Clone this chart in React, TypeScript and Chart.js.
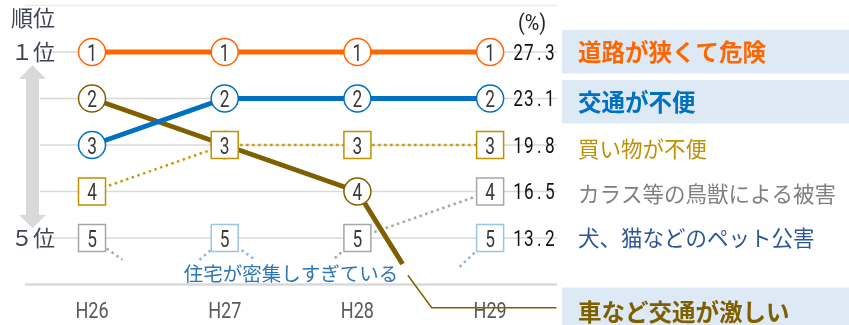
import React, { useEffect, useRef } from "react";
import { Chart, registerables } from "chart.js";

Chart.register(...registerables);

// ---- data ----
const years = ["H26", "H27", "H28", "H29"];
const rankRoad = [1, 1, 1, 1];
const rankTransit = [3, 2, 2, 2];
const rankTraffic = [2, 3, 4, null];
const rankShopping = [4, 3, 3, 3];
const rankCrow = [5, null, 5, 4];
const rankHousing = [null, 5, null, null];
const rankPets = [null, null, null, 5];
// stubs of series leaving / entering the top five (x = year index, y = rank)
const trafficExit = { x: 2.34, y: 5.56 };
const crowExit = { x: 0.23, y: 5.47 };
const crowEnter = { x: 1.83, y: 5.43 };
const housingEnter = { x: 0.81, y: 5.47 };
const housingExit = { x: 1.23, y: 5.47 };
const petsEnter = { x: 2.77, y: 5.62 };
const trafficLeader = [
  { x: 2.38, y: 5.8 },
  { x: 2.56, y: 6.5 },
  { x: 3.5, y: 6.5 },
];
const pctH29 = [27.3, 23.1, 19.8, 16.5, 13.2];
const rightLabels = [
  "道路が狭くて危険",
  "交通が不便",
  "買い物が不便",
  "カラス等の鳥獣による被害",
  "犬、猫などのペット公害",
];
const dropLabel = "車など交通が激しい";
const housingLabel = "住宅が密集しすぎている";
const axisTitle = "順位";
const topRankLabel = "１位";
const bottomRankLabel = "５位";
const unitLabel = "(%)";

const pts = (ranks: (number | null)[]) => ranks.map((r, i) => ({ x: i, y: r }));

const ORANGE = "#FF6600";
const BLUE = "#0070C0";
const BROWN = "#7F6000";
const GOLD = "#C39A12";
const GRAY = "#A6A6A6";
const LBLUE = "#8DB4E2";
const BG = "#DDE9F5";
const CJK = "'Noto Sans CJK JP', sans-serif";

const markerDefs = [
  { shape: "circle", color: ORANGE },
  { shape: "circle", color: BLUE },
  { shape: "circle", color: BROWN },
  { shape: "rect", color: "#BF9000" },
  { shape: "rect", color: GRAY },
  { shape: "rect", color: "#9DC3E6" },
  { shape: "rect", color: "#9DC3E6" },
  null,
];

function narrow(ctx: CanvasRenderingContext2D, text: string, x: number, y: number, size: number, sx: number, align: CanvasTextAlign, color: string) {
  ctx.save();
  ctx.translate(x, y + size * 0.355);
  ctx.scale(sx, 1);
  ctx.font = `${size}px Roboto, sans-serif`;
  ctx.textAlign = align;
  ctx.textBaseline = "alphabetic";
  ctx.fillStyle = color;
  ctx.fillText(text, 0, 0);
  ctx.restore();
}

const decor = {
  id: "decor",
  beforeDatasetsDraw(chart: any) {
    const ctx: CanvasRenderingContext2D = chart.ctx;
    const xs = chart.scales.x;
    const ys = chart.scales.y;
    const ca = chart.chartArea;
    ctx.save();
    for (let r = 0; r <= 6; r++) {
      const y = ys.getPixelForValue(r);
      ctx.beginPath();
      if (r === 0) {
        ctx.strokeStyle = "#ECECEC";
        ctx.lineWidth = 1.5;
        ctx.moveTo(ca.left - 15, y);
      } else if (r === 6) {
        ctx.strokeStyle = "#D9D9D9";
        ctx.lineWidth = 2.5;
        ctx.moveTo(ca.left - 15, y);
      } else {
        ctx.strokeStyle = "#D9D9D9";
        ctx.lineWidth = 1.5;
        ctx.moveTo(ca.left, y);
      }
      ctx.lineTo(ca.right + 2, y);
      ctx.stroke();
    }
    // double arrow
    const y1 = ys.getPixelForValue(1);
    const y5 = ys.getPixelForValue(5);
    const cx = 32.5;
    ctx.fillStyle = "#D9D9D9";
    ctx.beginPath();
    ctx.moveTo(cx, y1 + 13);
    ctx.lineTo(cx + 13.5, y1 + 27);
    ctx.lineTo(cx + 6.5, y1 + 27);
    ctx.lineTo(cx + 6.5, y5 - 23);
    ctx.lineTo(cx + 13.5, y5 - 23);
    ctx.lineTo(cx, y5 - 10);
    ctx.lineTo(cx - 13.5, y5 - 23);
    ctx.lineTo(cx - 6.5, y5 - 23);
    ctx.lineTo(cx - 6.5, y1 + 27);
    ctx.lineTo(cx - 13.5, y1 + 27);
    ctx.closePath();
    ctx.fill();
    // left labels
    ctx.font = `22px ${CJK}`;
    ctx.fillStyle = "#3E4452";
    ctx.textAlign = "left";
    ctx.textBaseline = "middle";
    ctx.fillText(axisTitle, 11, 18);
    ctx.fillText(topRankLabel, 11, y1);
    ctx.fillText(bottomRankLabel, 11, y5);
    // x labels
    years.forEach((t, i) => {
      narrow(ctx, t, xs.getPixelForValue(i), 310, 22, 0.82, "center", "#595959");
    });
    // right label backgrounds
    const bgRows = [0, 1];
    bgRows.forEach((i) => {
      const yc = ys.getPixelForValue(i + 1) + (i === 0 ? 0 : 3.5);
      ctx.fillStyle = BG;
      ctx.fillRect(562, yc - 22, 849 - 562, 43.5);
    });
    ctx.fillStyle = BG;
    ctx.fillRect(562, ys.getPixelForValue(6) + 3, 849 - 562, 60);
    ctx.restore();
  },
  afterDatasetsDraw(chart: any) {
    const ctx: CanvasRenderingContext2D = chart.ctx;
    const xs = chart.scales.x;
    const ys = chart.scales.y;
    ctx.save();
    chart.data.datasets.forEach((ds: any, di: number) => {
      const def = markerDefs[di];
      if (!def) return;
      const meta = chart.getDatasetMeta(di);
      meta.data.forEach((el: any, pi: number) => {
        const p = ds.data[pi];
        if (p.y == null || !Number.isInteger(p.x) || !Number.isInteger(p.y)) return;
        const x = el.x;
        const y = el.y;
        ctx.beginPath();
        if (def.shape === "circle") ctx.arc(x, y, 13.5, 0, Math.PI * 2);
        else ctx.rect(x - 13.5, y - 13.5, 27, 27);
        ctx.fillStyle = "#FFFFFF";
        ctx.fill();
        ctx.lineWidth = 1.5;
        ctx.strokeStyle = def.color;
        ctx.stroke();
        narrow(ctx, String(p.y), x, y, 24, 0.72, "center", "#3A3A3A");
      });
    });
    // percentages
    const x3 = xs.getPixelForValue(3);
    pctH29.forEach((v, i) => {
      const y = ys.getPixelForValue(i + 1);
      const s = v.toFixed(1);
      let xx = x3 + 28;
      for (const ch of s) {
        narrow(ctx, ch, xx, y, 22, 0.78, "center", "#111111");
        xx += 10.6;
      }
    });
    narrow(ctx, unitLabel, x3 + 42, 22, 22, 0.9, "center", "#222222");
    // right labels
    ctx.textAlign = "left";
    ctx.textBaseline = "middle";
    const styles = [
      { c: ORANGE, b: true, dy: 0 },
      { c: BLUE, b: true, dy: 3.5 },
      { c: "#BF9000", b: false, dy: 4 },
      { c: "#808080", b: false, dy: 2 },
      { c: "#2F5597", b: false, dy: 0 },
    ];
    rightLabels.forEach((t, i) => {
      const st = styles[i];
      ctx.font = st.b ? `bold 23.5px ${CJK}` : `21.5px ${CJK}`;
      ctx.fillStyle = st.c;
      ctx.fillText(t, 578, ys.getPixelForValue(i + 1) + st.dy);
    });
    ctx.font = `bold 23.5px ${CJK}`;
    ctx.fillStyle = BROWN;
    ctx.fillText(dropLabel, 578, ys.getPixelForValue(6.5) + 4);
    // housing annotation
    ctx.font = `19.5px ${CJK}`;
    ctx.fillStyle = "#2E75B6";
    ctx.textAlign = "center";
    ctx.fillText(housingLabel, xs.getPixelForValue(1.5), ys.getPixelForValue(5.75) + 1);
    ctx.restore();
  },
};

const solid = (color: string) => ({
  borderColor: color,
  borderWidth: 5,
  borderCapStyle: "butt" as const,
  pointRadius: 0,
  pointHitRadius: 0,
  clip: false as any,
});
const dotted = (color: string) => ({
  borderColor: color,
  borderWidth: 2.5,
  borderDash: [2.5, 3.5],
  pointRadius: 0,
  pointHitRadius: 0,
  clip: false as any,
});

export default function App() {
  const ref = useRef<HTMLCanvasElement | null>(null);
  useEffect(() => {
    if (!ref.current) return;
    const chart = new Chart(ref.current, {
      type: "line",
      data: {
        datasets: [
          { label: rightLabels[0], data: pts(rankRoad), ...solid(ORANGE) },
          { label: rightLabels[1], data: pts(rankTransit), ...solid(BLUE) },
          { label: dropLabel, data: [...pts(rankTraffic).filter((p) => p.y != null), trafficExit], ...solid(BROWN) },
          { label: rightLabels[2], data: pts(rankShopping), ...dotted(GOLD) },
          {
            label: rightLabels[3],
            data: [
              { x: 0, y: rankCrow[0] },
              crowExit,
              { x: 1, y: rankCrow[1] },
              crowEnter,
              { x: 2, y: rankCrow[2] },
              { x: 3, y: rankCrow[3] },
            ],
            ...dotted(GRAY),
          },
          { label: housingLabel, data: [housingEnter, { x: 1, y: rankHousing[1] }, housingExit], ...dotted(LBLUE) },
          { label: rightLabels[4], data: [petsEnter, { x: 3, y: rankPets[3] }], ...dotted(LBLUE) },
          { label: "leader", data: trafficLeader, borderColor: BROWN, borderWidth: 1.5, pointRadius: 0, pointHitRadius: 0, clip: false as any },
        ] as any,
      },
      options: {
        animation: false,
        responsive: false,
        events: [],
        layout: { padding: { left: 40, right: 294, top: 5.5, bottom: 40.5 } },
        scales: {
          x: { type: "linear", min: -0.392, max: 3.489, display: false },
          y: { type: "linear", min: 0, max: 6, reverse: true, display: false },
        },
        plugins: { legend: { display: false }, tooltip: { enabled: false } },
      },
      plugins: [decor],
    });
    return () => chart.destroy();
  }, []);
  return (
    <div style={{ position: "absolute", left: 0, top: 0, width: 849, height: 325, background: "#fff" }}>
      <canvas ref={ref} width={849} height={325} style={{ display: "block" }} />
    </div>
  );
}
